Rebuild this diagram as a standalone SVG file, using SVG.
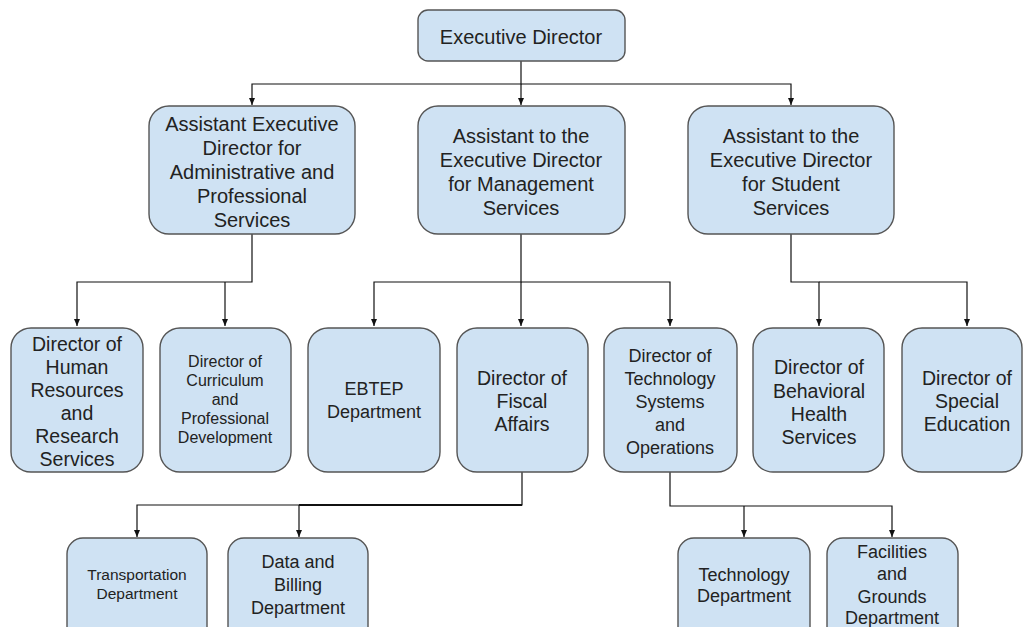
<svg xmlns="http://www.w3.org/2000/svg" width="1024" height="627" viewBox="0 0 1024 627">
<style>
.box{fill:#cfe2f3;stroke:#555;stroke-width:1.4}
text{font-family:"Liberation Sans",Arial,sans-serif;fill:#222;text-anchor:middle}
.x{font-size:20px}.l{font-size:19.5px}.m{font-size:18px}.s{font-size:16px}.t{font-size:15.5px}
.c{fill:none;stroke:#111;stroke-width:1.2}
</style>
<defs><marker id="a" markerWidth="8" markerHeight="8" refX="7" refY="4" orient="auto" markerUnits="userSpaceOnUse"><path d="M0,1 L7,4 L0,7 z" fill="#111"/></marker></defs>
<rect width="1024" height="627" fill="#fff"/>
<g id="connectors">
<path class="c" d="M521,61 V84 H252 V105" marker-end="url(#a)"/>
<path class="c" d="M521,84 V105" marker-end="url(#a)"/>
<path class="c" d="M521,84 H791 V105" marker-end="url(#a)"/>
<path class="c" d="M252,234 V282 H77 V326" marker-end="url(#a)"/>
<path class="c" d="M225,282 V326" marker-end="url(#a)"/>
<path class="c" d="M521,234 V282 H374 V326" marker-end="url(#a)"/>
<path class="c" d="M521,282 V326" marker-end="url(#a)"/>
<path class="c" d="M521,282 H670 V326" marker-end="url(#a)"/>
<path class="c" d="M791,234 V282 H819 V326" marker-end="url(#a)"/>
<path class="c" d="M819,282 H967 V326" marker-end="url(#a)"/>
<path class="c" d="M522,472 V505 H137 V537" marker-end="url(#a)"/>
<path class="c" d="M299,505 V537" marker-end="url(#a)"/>
<path class="c" d="M299,505 H522" style="stroke-width:2"/>
<path class="c" d="M670,472 V506 H892 V537" marker-end="url(#a)"/>
<path class="c" d="M744,506 V537" marker-end="url(#a)"/>
</g>
<g id="exec"><rect class="box" x="418" y="10" width="207" height="51" rx="10"/><text class="x" x="521" y="44">Executive Director</text></g>
<g id="asstA"><rect class="box" x="149" y="106" width="206" height="128" rx="20"/>
<text class="x" x="252" y="131">Assistant Executive</text><text class="x" x="252" y="155">Director for</text><text class="x" x="252" y="179">Administrative and</text><text class="x" x="252" y="203">Professional</text><text class="x" x="252" y="227">Services</text></g>
<g id="asstB"><rect class="box" x="418" y="106" width="207" height="128" rx="20"/>
<text class="x" x="521" y="143">Assistant to the</text><text class="x" x="521" y="167">Executive Director</text><text class="x" x="521" y="191">for Management</text><text class="x" x="521" y="215">Services</text></g>
<g id="asstC"><rect class="box" x="688" y="106" width="206" height="128" rx="20"/>
<text class="x" x="791" y="143">Assistant to the</text><text class="x" x="791" y="167">Executive Director</text><text class="x" x="791" y="191">for Student</text><text class="x" x="791" y="215">Services</text></g>
<g id="hr"><rect class="box" x="11" y="328" width="132" height="144" rx="20"/>
<text class="l" x="77" y="351">Director of</text><text class="l" x="77" y="374">Human</text><text class="l" x="77" y="397">Resources</text><text class="l" x="77" y="420">and</text><text class="l" x="77" y="443">Research</text><text class="l" x="77" y="466">Services</text></g>
<g id="curr"><rect class="box" x="160" y="328" width="131" height="144" rx="20"/>
<text class="s" x="225" y="367">Director of</text><text class="s" x="225" y="386">Curriculum</text><text class="s" x="225" y="405">and</text><text class="s" x="225" y="424">Professional</text><text class="s" x="225" y="443">Development</text></g>
<g id="ebtep"><rect class="box" x="308" y="328" width="132" height="144" rx="20"/>
<text class="m" x="374" y="395">EBTEP</text><text class="m" x="374" y="418">Department</text></g>
<g id="fiscal"><rect class="box" x="457" y="328" width="131" height="144" rx="20"/>
<text class="l" x="522" y="385">Director of</text><text class="l" x="522" y="408">Fiscal</text><text class="l" x="522" y="431">Affairs</text></g>
<g id="tech"><rect class="box" x="604" y="328" width="133" height="144" rx="20"/>
<text class="m" x="670" y="362">Director of</text><text class="m" x="670" y="385">Technology</text><text class="m" x="670" y="408">Systems</text><text class="m" x="670" y="431">and</text><text class="m" x="670" y="454">Operations</text></g>
<g id="behav"><rect class="box" x="753" y="328" width="131" height="144" rx="20"/>
<text class="l" x="819" y="374">Director of</text><text class="l" x="819" y="398">Behavioral</text><text class="l" x="819" y="421">Health</text><text class="l" x="819" y="444">Services</text></g>
<g id="sped"><rect class="box" x="902" y="328" width="120" height="144" rx="20"/>
<text class="l" x="967" y="385">Director of</text><text class="l" x="967" y="408">Special</text><text class="l" x="967" y="431">Education</text></g>
<g id="transp"><rect class="box" x="67" y="538" width="140" height="110" rx="16"/>
<text class="t" x="137" y="580">Transportation</text><text class="t" x="137" y="599">Department</text></g>
<g id="data"><rect class="box" x="228" y="538" width="140" height="110" rx="16"/>
<text class="m" x="298" y="568">Data and</text><text class="m" x="298" y="591">Billing</text><text class="m" x="298" y="614">Department</text></g>
<g id="techdept"><rect class="box" x="678" y="538" width="132" height="110" rx="16"/>
<text class="m" x="744" y="581">Technology</text><text class="m" x="744" y="602">Department</text></g>
<g id="facil"><rect class="box" x="827" y="538" width="131" height="110" rx="16"/>
<text class="m" x="892" y="558">Facilities</text><text class="m" x="892" y="580">and</text><text class="m" x="892" y="603">Grounds</text><text class="m" x="892" y="624">Department</text></g>
</svg>
